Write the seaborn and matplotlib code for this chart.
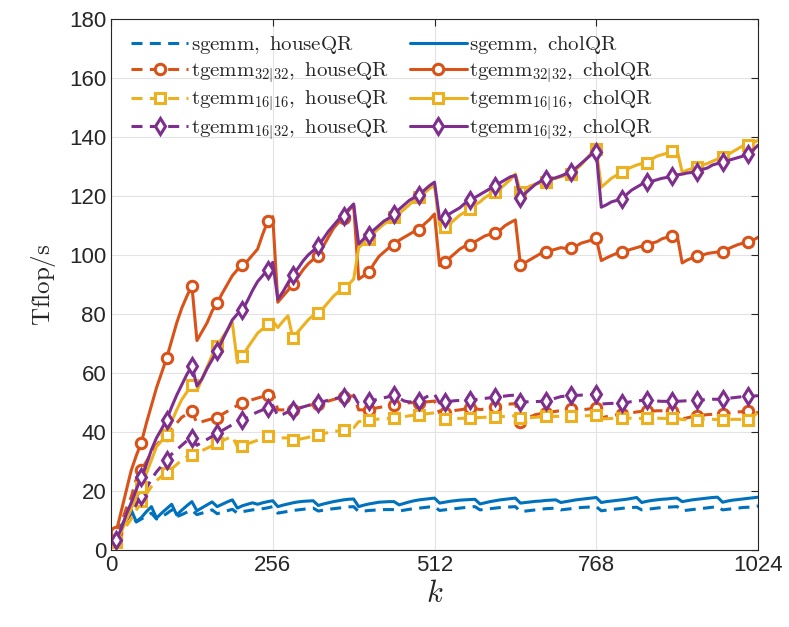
import numpy as np
import matplotlib
matplotlib.use('Agg')
import matplotlib.pyplot as plt
import seaborn as sns

# k = 8, 16, ..., 1024 ; markers on every 5th point (k = 8, 48, 88, ...)
k = np.arange(8, 1025, 8)

# ==================== sgemm ====================
sgemm_house = [
    4, 7, 10, 12.5, 9.5, 10.5, 11.5, 12.5, 10.5, 11.3, 12.3, 13.6, 11.3, 12, 12.8, 13.5,
    12, 12.5, 13, 13.6, 12.3, 12.8, 13.3, 13.8, 12.5, 13, 13.3, 13.6, 13.8, 14, 14.3, 14.7,
    12.5, 12.8, 13.1, 13.4, 13.6, 13.8, 14, 14.2, 13.2, 13.5, 13.8, 14, 14.2, 14.4, 14.6, 14.7,
    13, 13.2, 13.4, 13.5, 13.6, 13.7, 13.7, 13.7, 13.2, 13.5, 13.8, 14, 14.2, 14.4, 14.6, 14.7,
    13.4, 13.6, 13.8, 14, 14.2, 14.4, 14.6, 14.7, 13.6, 13.8, 14, 14.2, 14.4, 14.5, 14.6, 14.7,
    13, 13.2, 13.4, 13.6, 13.8, 14, 14.1, 14.2, 13.6, 13.8, 14, 14.2, 14.4, 14.5, 14.6, 14.7,
    13.3, 13.5, 13.7, 13.9, 14.1, 14.3, 14.4, 14.5, 13.6, 13.8, 14, 14.2, 14.4, 14.5, 14.6, 14.7,
    13.3, 13.5, 13.7, 13.9, 14.1, 14.3, 14.5, 14.7, 13.6, 13.8, 14, 14.2, 14.4, 14.5, 14.6, 14.9,
]
sgemm_chol = [
    5, 8, 11, 13.6, 9.6, 11, 13, 14.7, 10.8, 12.5, 14, 15.5, 11.9, 13.5, 15, 16.4,
    13.3, 14.3, 15.3, 16.3, 14.7, 15.5, 16.3, 17, 14.2, 15, 15.5, 16, 15.5, 16, 16.4, 16.7,
    14.7, 15.2, 15.6, 16, 16.3, 16.5, 16.6, 16.7, 15.1, 15.6, 16, 16.4, 16.7, 17, 17.2, 17.3,
    14.7, 15.2, 15.6, 15.9, 16.2, 16.3, 16.4, 16.4, 15.3, 15.8, 16.3, 16.7, 17, 17.2, 17.4, 17.6,
    15.9, 16.2, 16.5, 16.7, 16.9, 17, 17.1, 17.2, 15.6, 16, 16.4, 16.7, 17, 17.2, 17.4, 17.6,
    15.9, 16.1, 16.3, 16.5, 16.6, 16.8, 16.9, 17, 16.1, 16.4, 16.7, 17, 17.2, 17.4, 17.6, 17.8,
    16.1, 16.4, 16.6, 16.8, 17, 17.2, 17.5, 17.8, 16.1, 16.5, 16.8, 17, 17.2, 17.3, 17.5, 17.6,
    16.4, 16.7, 17, 17.2, 17.4, 17.6, 17.8, 17.9, 16.2, 16.6, 16.9, 17.1, 17.3, 17.5, 17.7, 17.9,
]

# ==================== tgemm 32|32 ====================
t3232_house = [
    5.5, 9, 14, 18, 24, 27, 30, 33, 35.5, 37.5, 39, 41, 43, 45, 46, 47,
    43, 43.5, 44, 44.5, 44.8, 46, 47, 48, 49, 49.9, 50.5, 51, 51.5, 52, 52.7, 53.5,
    47.5, 47.5, 47.5, 47.5, 48, 48.5, 49, 49.3, 49.5, 50, 50.5, 51, 51.5, 51.8, 52, 52.3,
    47.5, 47.5, 47.5, 48, 48.3, 48.6, 49, 49.3, 49.5, 49.7, 49.9, 50, 50, 50.2, 50.3, 50.5,
    46.5, 46.5, 47, 47.3, 47.5, 47.8, 48, 48, 47.6, 47.8, 48.2, 48.5, 49, 49.3, 49.5, 49.6,
    43.5, 44.5, 45.2, 45.9, 46.2, 46.5, 46.8, 47, 47.3, 47.5, 47.8, 47.8, 47.5, 47.7, 47.9, 48,
    44.8, 45.2, 45.5, 45.8, 46, 46.3, 46.5, 46.8, 47, 47, 47.1, 47.2, 47.2, 47.2, 47.2, 47.3,
    44.4, 44.8, 45.2, 45.5, 45.7, 45.9, 46, 46.1, 46.2, 46.4, 46.6, 46.8, 46.9, 47, 46.8, 46.5,
]
t3232_chol = [
    6, 13, 20, 27, 32, 36.4, 43, 49, 55, 60, 65, 71, 77, 82, 86, 89.6,
    71, 74, 77, 81, 83.7, 87, 90, 93, 95, 96.6, 98, 100, 102, 107, 111.4, 113,
    84, 86, 88, 90.1, 92.5, 95, 97, 98.5, 99.8, 103, 106, 109, 111, 112.5, 115, 117,
    91.8, 93, 94.1, 97, 99.5, 101, 102.5, 103.4, 105, 106, 107, 108, 108.6, 110.5, 112, 113.9,
    96.4, 97.5, 99, 100.5, 102, 103, 103.4, 104.5, 105.5, 106.5, 107, 107.5, 108.5, 110, 111, 111.9,
    96.6, 97.5, 98.5, 99.5, 100.5, 101.1, 101.5, 102, 102.5, 102.2, 102.3, 103, 104, 104.5, 105, 105.7,
    98.1, 99, 99.8, 100.5, 101.1, 101.5, 102, 102.5, 103, 103.2, 104, 104.5, 105.5, 106, 106.6, 106.8,
    97.3, 98.3, 99, 99.8, 100, 100.5, 100.8, 101, 101.1, 102, 102.8, 103.5, 104, 104.5, 105, 106,
]

# ==================== tgemm 16|16 ====================
t1616_house = [
    3, 5.5, 8, 10.5, 13.5, 16.5, 19, 21.5, 23.5, 25, 26.1, 27.5, 29, 30.5, 31.5, 32.3,
    33, 33.7, 34.5, 35.3, 36.3, 37, 37.8, 38.5, 35, 35.4, 36, 36.6, 37.2, 37.8, 38.5, 39,
    38, 38, 38, 37.2, 37.5, 37.8, 38.2, 38.6, 39.1, 39.5, 39.8, 40.1, 40.4, 40.8, 41.1, 41.4,
    43.5, 43.8, 44, 44.2, 44.4, 44.5, 44.6, 44.8, 45, 45.2, 45.5, 45.7, 45.9, 46.1, 46.3, 46.5,
    44.6, 44.5, 44.5, 44.6, 44.6, 44.7, 44.8, 44.9, 44.9, 45, 45, 45.1, 45.2, 45.3, 45.4, 45.5,
    44.7, 44.8, 44.9, 45, 45.1, 45.3, 45.3, 45.3, 45.3, 45.3, 45.3, 45.4, 45.5, 45.5, 45.6, 45.6,
    44.5, 44.5, 44.6, 44.6, 44.6, 44.7, 44.7, 44.6, 44.6, 44.6, 44.7, 44.7, 44.6, 44.6, 44.6, 44.7,
    44.2, 44.2, 44.2, 44.2, 44.3, 44.3, 44.3, 44.2, 44.2, 44.2, 44.3, 44.3, 44.2, 44.2, 45, 47,
]
t1616_chol = [
    2.8, 6, 10, 14, 18, 21.5, 26, 30.5, 35, 37, 39.1, 43.5, 47.5, 51, 53.5, 56.1,
    54, 58, 62, 66, 69.2, 72, 74.5, 77.1, 63.5, 65.8, 68.5, 71, 73.5, 75, 76.5, 77.6,
    75.4, 77.5, 79.4, 71.7, 74, 76, 78, 79.5, 80.3, 82, 84, 86, 87.5, 88.7, 90, 91.8,
    102.5, 104, 105.4, 107.5, 109, 110.5, 111.5, 112.8, 114, 115.5, 117, 118.5, 119.5, 121, 122.5, 123.5,
    110, 109.4, 110.5, 112, 113.5, 114.5, 115.6, 117, 118, 119.5, 120.5, 121.3, 122.5, 124, 125.5, 127.5,
    121.5, 122.5, 123.5, 124, 124.5, 124.7, 125.5, 126, 126.5, 127, 127.6, 129, 130.5, 132.5, 134.5, 136,
    123, 124.5, 126, 127, 128.1, 129, 129.8, 130.5, 131, 131.2, 132.5, 133.5, 134, 134.5, 135.1, 135.5,
    128.1, 128.8, 129.3, 129.8, 130.5, 131, 131.8, 132.5, 133.2, 134, 135, 136, 137, 137.4, 138, 138.9,
]

# ==================== tgemm 16|32 ====================
t1632_house = [
    4, 7, 10, 12.5, 15.5, 18.3, 21, 24, 26.5, 28.5, 30.6, 32.5, 34, 35.5, 37, 38,
    35.5, 36.5, 37.5, 38.5, 39.7, 40.5, 41.5, 42.5, 43.5, 44.2, 45, 46, 46.8, 47.5, 48.2, 49,
    45.5, 46, 46.8, 47.6, 48, 48.5, 49, 49.5, 49.9, 50.3, 50.8, 51.2, 51.6, 52, 52.3, 52.5,
    49.5, 50, 50.4, 50.8, 51.2, 51.6, 52, 52.4, 51.5, 50.5, 50.2, 50.3, 50.4, 51.5, 52.5, 52.8,
    49.8, 50.2, 50.4, 50.6, 50.7, 50.8, 50.8, 51, 51.2, 51.4, 51.6, 51.9, 52, 52.2, 52.4, 52.5,
    50.1, 50.2, 50.3, 50.3, 50.4, 50.4, 51, 51.5, 52, 52.2, 52.4, 52.4, 52.5, 52.6, 52.7, 52.8,
    49.5, 49.6, 49.7, 49.7, 49.7, 50, 50.3, 50.5, 50.7, 50.8, 50.7, 50.5, 50.4, 50.4, 50.4, 50.4,
    50.5, 50.6, 50.7, 50.8, 50.9, 51, 51.1, 51.1, 51.2, 51.4, 51.6, 51.8, 52, 52.1, 52.2, 52.3,
]
t1632_chol = [
    3.4, 7, 12, 16, 20.5, 24.7, 29, 34, 38, 41, 44.2, 48.5, 52.5, 56, 59.5, 62.4,
    55.6, 58, 61.5, 64.5, 67.5, 71, 74.5, 78, 80, 81.3, 84.5, 88, 91, 93, 95, 97.5,
    85, 87.5, 90.5, 93.3, 95.5, 98, 100, 101.5, 103, 105.5, 108, 110, 112, 113.2, 115.5, 117.3,
    103.7, 105.5, 106.9, 108.5, 110, 111.5, 112.5, 114, 115.5, 117, 118.5, 119.5, 120.4, 122, 123.5, 124.7,
    112.2, 112.5, 114, 115, 116, 117.5, 118.5, 119.5, 120.5, 121.5, 122.5, 123.4, 124.5, 125.5, 126.5, 127,
    119.3, 121, 122.5, 124, 125, 125.6, 125.8, 126.2, 126.8, 127.5, 128.3, 129.5, 131, 132.5, 134, 134.9,
    116.2, 117, 118, 118.5, 119, 120.5, 122, 123, 124, 124.7, 125, 125.5, 126, 126.3, 126.8, 127.2,
    127.4, 127.8, 128, 128.3, 129, 129.5, 130.5, 131, 131.5, 132, 132.5, 133, 133.5, 134.4, 135.5, 137.2,
]

labels = [
    r'$\mathrm{sgemm,\ houseQR}$',
    r'$\mathrm{tgemm}_{32|32}\mathrm{,\ houseQR}$',
    r'$\mathrm{tgemm}_{16|16}\mathrm{,\ houseQR}$',
    r'$\mathrm{tgemm}_{16|32}\mathrm{,\ houseQR}$',
    r'$\mathrm{sgemm,\ cholQR}$',
    r'$\mathrm{tgemm}_{32|32}\mathrm{,\ cholQR}$',
    r'$\mathrm{tgemm}_{16|16}\mathrm{,\ cholQR}$',
    r'$\mathrm{tgemm}_{16|32}\mathrm{,\ cholQR}$',
]

# 绘图样式
sns.set_style('white')
plt.rcParams['font.family'] = ['Liberation Sans', 'DejaVu Sans']
plt.rcParams['mathtext.fontset'] = 'cm'

blue, orange, yellow, purple = '#0072BD', '#D95319', '#EDB120', '#7E2F8E'
dash = (0, (3.6, 2.4))

series = [
    (sgemm_house, blue, dash, None, 0),
    (t3232_house, orange, dash, 'o', 7.5),
    (t1616_house, yellow, dash, 's', 7),
    (t1632_house, purple, dash, 'd', 8.5),
    (sgemm_chol, blue, '-', None, 0),
    (t3232_chol, orange, '-', 'o', 7.5),
    (t1616_chol, yellow, '-', 's', 7),
    (t1632_chol, purple, '-', 'd', 8.5),
]

fig = plt.figure(figsize=(7.89, 6.27), dpi=100)
ax = fig.add_axes([0.1407, 0.1228, 0.820, 0.8469])

for (vals, col, ls, mk, ms), lab in zip(series, labels):
    assert len(vals) == len(k)
    kw = dict(marker=mk, markevery=5, markersize=ms, markerfacecolor='white',
              markeredgecolor=col, markeredgewidth=2.2) if mk else dict(marker=None)
    sns.lineplot(x=k, y=vals, ax=ax, color=col, linestyle=ls, linewidth=2.2,
                 label=lab, **kw)

ax.set_xlim(0, 1024)
ax.set_ylim(0, 180)
ax.set_xticks([0, 256, 512, 768, 1024])
ax.set_yticks(range(0, 181, 20))
ax.tick_params(direction='in', top=True, right=True, length=5, width=0.8,
               labelsize=16, color='#262626', labelcolor='#262626')
ax.grid(True, color='#e3e3e3', linewidth=0.8)
ax.set_axisbelow(True)
for sp in ax.spines.values():
    sp.set_color('#262626')
    sp.set_linewidth(0.8)

ax.set_xlabel(r'$k$', fontsize=22, labelpad=2)
ax.set_ylabel(r'$\mathrm{Tflop/s}$', fontsize=18, labelpad=8)

handles, labs = ax.get_legend_handles_labels()
ax.legend(handles, labs, ncol=2, loc='upper left', bbox_to_anchor=(0.018, 0.987),
          frameon=False, fontsize=15, handlelength=2.75, handletextpad=0.12,
          columnspacing=1.0, labelspacing=0.22, numpoints=1, borderaxespad=0)

fig.savefig('out.png', dpi=100)
